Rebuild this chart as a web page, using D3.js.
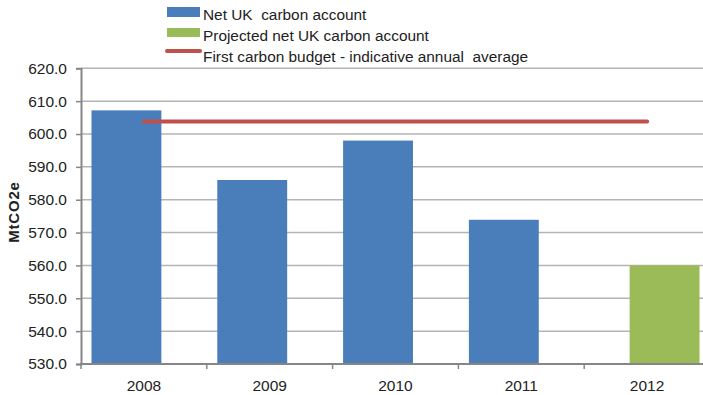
<!DOCTYPE html>
<html>
<head>
<meta charset="utf-8">
<script src="https://cdn.jsdelivr.net/npm/d3@7"></script>
<style>
  body { margin: 0; background: #fff; }
  svg { display: block; font-family: "Liberation Sans", Arial, sans-serif; }
</style>
</head>
<body>
<div id="chart"></div>
<script>
// data
let years = ["2008", "2009", "2010", "2011", "2012"];
let netAccount = [607.2, 586.0, 598.0, 573.9, null];
let projectedAccount = [null, null, null, null, 560.0];
let budgetAverage = [603.8, 603.8, 603.8, 603.8, 603.8];
let yTicks = [530, 540, 550, 560, 570, 580, 590, 600, 610, 620];
let legendLabels = ["Net UK  carbon account", "Projected net UK carbon account", "First carbon budget - indicative annual  average"];

let width = 703;
let height = 395;
let colors = { net: "#4a7ebb", projected: "#9bbb59", budget: "#c0504d" };

let svg = d3.select("#chart")
    .append("svg")
    .attr("width", width)
    .attr("height", height);

// plot area runs off the right edge, like the source image
let x = d3.scaleBand()
    .domain(years)
    .range([81, 710]);

let y = d3.scaleLinear()
    .domain([530, 620])
    .range([364, 68.3]);

// excel style clustering: gap width 30%, overlap 50%
let gapWidth = 0.3, overlap = 0.5;
let barW = x.bandwidth() / (1 + (1 - overlap) + gapWidth);
let seriesOffset = d3.scaleOrdinal()
    .domain(["net", "projected"])
    .range([barW * gapWidth / 2, barW * gapWidth / 2 + barW * (1 - overlap)]);

// gridlines
svg.append("g")
    .selectAll("line")
    .data(yTicks)
    .enter()
    .append("line")
    .attr("x1", 81)
    .attr("x2", width)
    .attr("y1", d => y(d))
    .attr("y2", d => y(d))
    .attr("stroke", "#b4b4b4")
    .attr("stroke-width", 1.5);

// bars
let barData = [];
years.forEach(function (yr, i) {
    if (netAccount[i] != null) barData.push({ year: yr, series: "net", value: netAccount[i] });
    if (projectedAccount[i] != null) barData.push({ year: yr, series: "projected", value: projectedAccount[i] });
});

svg.append("g")
    .selectAll("rect")
    .data(barData)
    .enter()
    .append("rect")
    .attr("x", d => x(d.year) + seriesOffset(d.series))
    .attr("width", barW)
    .attr("y", d => y(d.value))
    .attr("height", d => y(530) - y(d.value))
    .attr("fill", d => colors[d.series]);

// budget line
let line = d3.line()
    .x((d, i) => x(years[i]) + x.bandwidth() / 2)
    .y(d => y(d));

svg.append("path")
    .datum(budgetAverage)
    .attr("d", line)
    .attr("fill", "none")
    .attr("stroke", colors.budget)
    .attr("stroke-width", 4)
    .attr("stroke-linecap", "round");

// y axis
let yAxis = svg.append("g")
    .attr("transform", "translate(81,0)")
    .call(d3.axisLeft(y).tickValues(yTicks).tickFormat(d3.format(".1f")).tickSize(5).tickPadding(9));

yAxis.select(".domain").attr("stroke", "#868686").attr("stroke-width", 2);
yAxis.selectAll(".tick line").attr("stroke", "#868686").attr("stroke-width", 1.5);
yAxis.selectAll(".tick text")
    .attr("font-size", 15.5)
    .attr("fill", "#222")
    .attr("font-family", "Liberation Sans, Arial, sans-serif");

// x axis, ticks on the category boundaries
let xAxis = svg.append("g")
    .attr("transform", "translate(0,364)");

xAxis.append("line")
    .attr("x1", 80)
    .attr("x2", width)
    .attr("stroke", "#868686")
    .attr("stroke-width", 2);

xAxis.selectAll("line.tick")
    .data(years)
    .enter()
    .append("line")
    .attr("class", "tick")
    .attr("x1", d => x(d))
    .attr("x2", d => x(d))
    .attr("y1", 0)
    .attr("y2", 5)
    .attr("stroke", "#868686")
    .attr("stroke-width", 1.5);

xAxis.selectAll("text")
    .data(years)
    .enter()
    .append("text")
    .attr("x", d => x(d) + x.bandwidth() / 2)
    .attr("y", 27)
    .attr("text-anchor", "middle")
    .attr("font-size", 15.5)
    .attr("fill", "#222")
    .text(d => d);

// y axis title
svg.append("text")
    .attr("transform", "translate(19,212) rotate(-90)")
    .attr("text-anchor", "middle")
    .attr("font-size", 15)
    .attr("font-weight", "bold")
    .attr("letter-spacing", 0.8)
    .attr("fill", "#222")
    .text("MtCO2e");

// legend
let legend = svg.append("g").attr("id", "legend");
let legendY = [19.5, 40.5, 61.5];

legend.append("rect")
    .attr("x", 167).attr("y", 7)
    .attr("width", 33).attr("height", 10)
    .attr("fill", colors.net);

legend.append("rect")
    .attr("x", 167).attr("y", 28)
    .attr("width", 33).attr("height", 9)
    .attr("fill", colors.projected);

legend.append("line")
    .attr("x1", 167).attr("x2", 200)
    .attr("y1", 51).attr("y2", 51)
    .attr("stroke", colors.budget)
    .attr("stroke-width", 4)
    .attr("stroke-linecap", "round");

legend.selectAll("text")
    .data(legendLabels)
    .enter()
    .append("text")
    .attr("x", 203)
    .attr("y", (d, i) => legendY[i])
    .attr("font-size", 15.4)
    .attr("fill", "#222")
    .style("white-space", "pre")
    .text(d => d);
</script>
</body>
</html>
